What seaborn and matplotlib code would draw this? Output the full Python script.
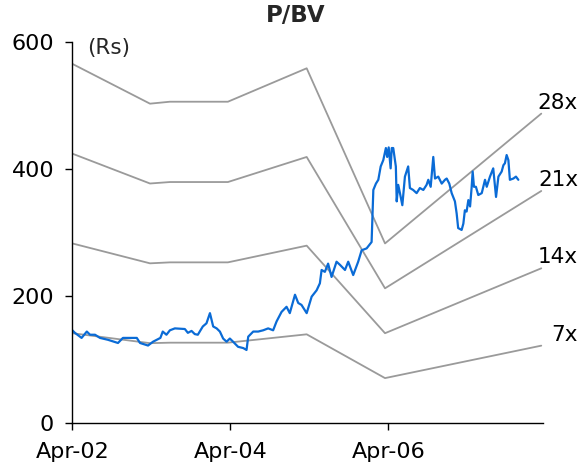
import pandas as pd
import matplotlib
matplotlib.use("Agg")
import matplotlib.pyplot as plt
import matplotlib.dates as mdates
import matplotlib.transforms as mtransforms
import seaborn as sns

# Share price (Rs)
price_dates = [
    "2002-04-01", "2002-04-13", "2002-05-14", "2002-06-07", "2002-06-22", "2002-07-15",
    "2002-08-07", "2002-09-13", "2002-10-29", "2002-11-21", "2003-01-24", "2003-02-08",
    "2003-03-17", "2003-04-09", "2003-05-13", "2003-05-24", "2003-06-10", "2003-06-26",
    "2003-07-19", "2003-09-03", "2003-09-17", "2003-10-04", "2003-10-19", "2003-11-02",
    "2003-11-25", "2003-12-12", "2003-12-28", "2004-01-12", "2004-01-28", "2004-02-12",
    "2004-02-27", "2004-03-14", "2004-03-29", "2004-04-13", "2004-05-06", "2004-05-30",
    "2004-06-14", "2004-06-22", "2004-07-15", "2004-08-07", "2004-08-30", "2004-09-22",
    "2004-10-15", "2004-10-31", "2004-11-23", "2004-12-16", "2004-12-31", "2005-01-24",
    "2005-02-08", "2005-02-23", "2005-03-19", "2005-04-11", "2005-05-04", "2005-05-19",
    "2005-05-27", "2005-06-11", "2005-06-26", "2005-07-12", "2005-08-04", "2005-08-20",
    "2005-09-12", "2005-09-27", "2005-10-20", "2005-11-12", "2005-11-28", "2005-12-21",
    "2006-01-13", "2006-01-21", "2006-02-02", "2006-02-13", "2006-02-24", "2006-03-08",
    "2006-03-20", "2006-03-26", "2006-04-02", "2006-04-11", "2006-04-16", "2006-04-23",
    "2006-05-05", "2006-05-09", "2006-05-16", "2006-05-24", "2006-06-04", "2006-06-16",
    "2006-07-01", "2006-07-09", "2006-07-24", "2006-08-09", "2006-08-24", "2006-09-09",
    "2006-09-24", "2006-10-02", "2006-10-13", "2006-10-25", "2006-11-02", "2006-11-17",
    "2006-12-03", "2006-12-18", "2006-12-26", "2007-01-07", "2007-01-18", "2007-02-02",
    "2007-02-10", "2007-02-17", "2007-03-05", "2007-03-13", "2007-03-20", "2007-03-28",
    "2007-04-05", "2007-04-13", "2007-04-20", "2007-04-25", "2007-05-01", "2007-05-10",
    "2007-05-21", "2007-06-06", "2007-06-21", "2007-06-29", "2007-07-14", "2007-07-29",
    "2007-08-11", "2007-08-22", "2007-09-06", "2007-09-14", "2007-09-21", "2007-09-29",
    "2007-10-07", "2007-10-14", "2007-10-30", "2007-11-11", "2007-11-22",
]
price_values = [
    146, 142, 134, 144, 139, 139,
    134, 131, 126, 134, 134, 126,
    122, 128, 134, 144, 139, 146,
    149, 148, 142, 145, 140, 139,
    152, 157, 173, 152, 149, 144,
    133, 128, 133, 128, 120, 118,
    115, 136, 144, 144, 146, 149,
    146, 160, 175, 183, 173, 202,
    189, 186, 173, 199, 209, 220,
    241, 238, 251, 230, 254, 249,
    241, 254, 233, 254, 272, 275,
    285, 367, 377, 383, 404, 414,
    433, 419, 434, 401, 433, 433,
    404, 349, 375, 362, 343, 388,
    404, 370, 367, 362, 370, 367,
    375, 383, 372, 419, 385, 388,
    377, 383, 385, 377, 362, 349,
    330, 307, 304, 314, 335, 333,
    351, 341, 370, 396, 372, 372,
    359, 362, 383, 372, 388, 401,
    356, 388, 396, 406, 409, 422,
    414, 383, 385, 388, 383,
]

# Book value per share (Rs) used for the P/BV bands
bv_dates = ["2002-04-01", "2003-03-26", "2003-06-26", "2004-03-20",
            "2005-03-19", "2006-03-16", "2008-03-07"]
bv_values = [20.2, 17.96, 18.07, 18.07, 19.95, 10.1, 17.4]

multiples = [28, 21, 14, 7]
band_labels = ["28x", "21x", "14x", "7x"]

x_ticks = ["2002-04-01", "2004-04-01", "2006-04-01"]
y_ticks = [0, 200, 400, 600]

price_df = pd.DataFrame({"date": pd.to_datetime(price_dates), "price": price_values})
band_df = pd.concat(
    [pd.DataFrame({"date": pd.to_datetime(bv_dates),
                   "value": [m * v for v in bv_values],
                   "band": lab})
     for m, lab in zip(multiples, band_labels)],
    ignore_index=True,
)

sns.set_style("ticks")
plt.rcParams["font.family"] = ["DejaVu Sans"]

fig = plt.figure(figsize=(5.79, 4.70), dpi=100)
ax = fig.add_axes([72.3 / 579, 47 / 470, (543 - 72.3) / 579, (423 - 42) / 470])

grey = "#9a9a9a"
sns.lineplot(data=band_df, x="date", y="value", hue="band",
             palette={lab: grey for lab in band_labels},
             linewidth=1.3, legend=False, ax=ax, sort=False)
sns.lineplot(data=price_df, x="date", y="price", color="#0a6bd6",
             linewidth=1.6, ax=ax)

# Band labels at the right end of each line
end_date = pd.to_datetime(bv_dates[-1])
for m, lab in zip(multiples, band_labels):
    ax.annotate(lab, xy=(end_date, m * bv_values[-1]), xycoords="data",
                xytext=(26.5, 8), textcoords="offset points",
                ha="right", va="center", fontsize=15.5, color="black",
                annotation_clip=False)

ax.set_xlim(pd.Timestamp("2002-04-01"), pd.Timestamp("2008-03-15"))
ax.set_ylim(0, 600)
ax.set_xticks(pd.to_datetime(x_ticks))
ax.xaxis.set_major_formatter(mdates.DateFormatter("%b-%y"))
ax.set_yticks(y_ticks)
ax.set_xlabel("")
ax.set_ylabel("")

for side in ("top", "right"):
    ax.spines[side].set_visible(False)
for side in ("left", "bottom"):
    ax.spines[side].set_color("black")
    ax.spines[side].set_linewidth(1.0)
ax.tick_params(axis="both", direction="out", length=5, width=1.0,
               color="black", labelsize=16, labelcolor="black")
ax.tick_params(axis="y", pad=8)
ax.tick_params(axis="x", pad=9)

# Unit label in the top-left corner of the plot area
units_tf = mtransforms.blended_transform_factory(fig.transFigure, ax.transData)
ax.text(87 / 579, 591, "(Rs)", transform=units_tf,
        fontsize=15.5, va="center", ha="left")

fig.text(296 / 579, 1 - 16 / 470, "P/BV", ha="center", va="center",
         fontsize=16.5, fontweight="bold")

fig.savefig("out.png", dpi=100, facecolor="white")
